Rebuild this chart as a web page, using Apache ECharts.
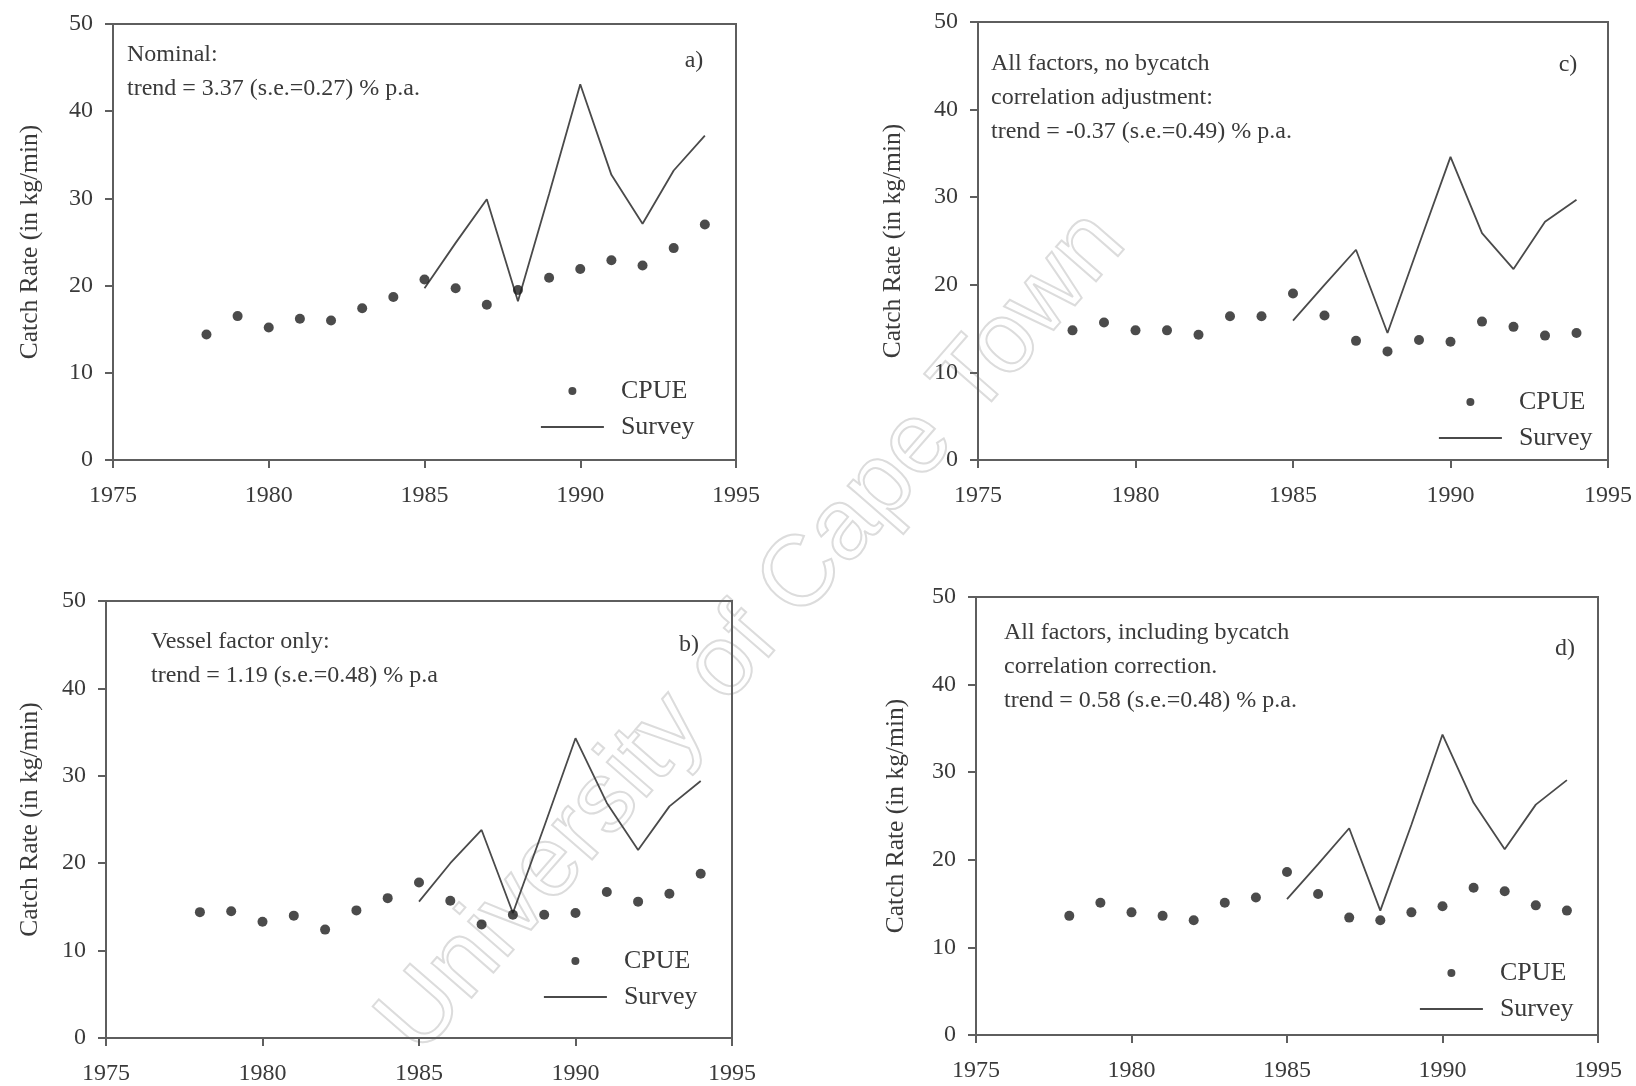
<!DOCTYPE html>
<html>
<head>
<meta charset="utf-8">
<script src="https://cdn.jsdelivr.net/npm/echarts@6/dist/echarts.min.js"></script>
<style>
  html, body { margin: 0; padding: 0; background: #fff; }
  #chart { width: 1636px; height: 1086px; }
</style>
</head>
<body>
<div id="chart"></div>
<script>
// ---- data ----
const years = [1978, 1979, 1980, 1981, 1982, 1983, 1984, 1985, 1986, 1987, 1988, 1989, 1990, 1991, 1992, 1993, 1994];
const surveyYears = [1985, 1986, 1987, 1988, 1989, 1990, 1991, 1992, 1993, 1994];

const cpueA = [14.4, 16.5, 15.2, 16.2, 16.0, 17.4, 18.7, 20.7, 19.7, 17.8, 19.5, 20.9, 21.9, 22.9, 22.3, 24.3, 27.0];
const surveyA = [19.7, 24.9, 29.9, 18.2, 30.5, 43.1, 32.7, 27.1, 33.2, 37.2];

const cpueC = [14.8, 15.7, 14.8, 14.8, 14.3, 16.4, 16.4, 19.0, 16.5, 13.6, 12.4, 13.7, 13.5, 15.8, 15.2, 14.2, 14.5];
const surveyC = [15.9, 20.0, 24.0, 14.5, 24.6, 34.6, 25.9, 21.8, 27.2, 29.7];

const cpueB = [14.4, 14.5, 13.3, 14.0, 12.4, 14.6, 16.0, 17.8, 15.7, 13.0, 14.1, 14.1, 14.3, 16.7, 15.6, 16.5, 18.8];
const surveyB = [15.6, 20.0, 23.8, 14.3, 24.2, 34.3, 26.9, 21.5, 26.5, 29.4];

const cpueD = [13.6, 15.1, 14.0, 13.6, 13.1, 15.1, 15.7, 18.6, 16.1, 13.4, 13.1, 14.0, 14.7, 16.8, 16.4, 14.8, 14.2];
const surveyD = [15.5, 19.5, 23.6, 14.2, 24.0, 34.3, 26.5, 21.2, 26.3, 29.1];

const yTicks = { min: 0, max: 50, interval: 10 };
const xTicks = { min: 1975, max: 1995, interval: 5 };

const panelLabels = ['a)', 'c)', 'b)', 'd)'];
const panelNotes = [
  ['Nominal:', 'trend = 3.37 (s.e.=0.27) % p.a.'],
  ['All factors, no bycatch', 'correlation adjustment:', 'trend = -0.37 (s.e.=0.49) % p.a.'],
  ['Vessel factor only:', 'trend = 1.19 (s.e.=0.48) % p.a'],
  ['All factors, including bycatch', 'correlation correction.', 'trend = 0.58 (s.e.=0.48) % p.a.']
];
const yName = 'Catch Rate (in kg/min)';
const watermark = 'University of Cape Town';

// ---- layout ----
const SERIF = '"Liberation Serif", "DejaVu Serif", serif';
const TXT = '#3a3a3a';
const AX = '#5e5e5e';
const DOT = '#1e1e1e';
const LINE = '#4a4a4a';

const panels = [
  { cpue: cpueA, survey: surveyA, grid: { left: 113, top: 24, width: 623, height: 436 }, nameGap: 70,
    label: [694, 61], note: [127, 52], legend: [540, 378] },
  { cpue: cpueC, survey: surveyC, grid: { left: 978, top: 22, width: 630, height: 438 }, nameGap: 72,
    label: [1568, 65], note: [991, 61], legend: [1438, 389] },
  { cpue: cpueB, survey: surveyB, grid: { left: 106, top: 601, width: 626, height: 438 }, nameGap: 63,
    label: [689, 645], note: [151, 639], legend: [543, 948] },
  { cpue: cpueD, survey: surveyD, grid: { left: 976, top: 597, width: 622, height: 438 }, nameGap: 67,
    label: [1565, 649], note: [1004, 630], legend: [1419, 960] }
];

const grids = [], xAxes = [], yAxes = [], series = [], legends = [], graphics = [];

graphics.push({
  type: 'text', x: 753, y: 633, rotation: 0.854, z: -10,
  style: {
    text: watermark, font: '100px "Liberation Sans", Arial, sans-serif',
    fill: 'rgba(255,255,255,0)', stroke: '#dcdcdc', lineWidth: 2,
    align: 'center', verticalAlign: 'middle'
  }
});

panels.forEach((p, i) => {
  grids.push(Object.assign({ show: true, borderColor: AX, borderWidth: 2, backgroundColor: 'transparent' }, p.grid));
  xAxes.push({
    type: 'value', gridIndex: i, min: xTicks.min, max: xTicks.max, interval: xTicks.interval,
    splitLine: { show: false },
    axisLine: { onZero: false, lineStyle: { color: AX, width: 2 } },
    axisTick: { length: 8, lineStyle: { color: AX, width: 2 } },
    axisLabel: { fontFamily: SERIF, fontSize: 24, color: TXT, margin: 24, formatter: v => String(v) }
  });
  yAxes.push({
    type: 'value', gridIndex: i, min: yTicks.min, max: yTicks.max, interval: yTicks.interval,
    name: yName, nameLocation: 'middle', nameGap: p.nameGap, nameRotate: 90,
    nameTextStyle: { fontFamily: SERIF, fontSize: 25.5, color: TXT },
    splitLine: { show: false },
    axisLine: { onZero: false, lineStyle: { color: AX, width: 2 } },
    axisTick: { length: 8, lineStyle: { color: AX, width: 2 } },
    axisLabel: { fontFamily: SERIF, fontSize: 24, color: TXT, margin: 20 }
  });
  series.push({
    type: 'scatter', name: 'CPUE', xAxisIndex: i, yAxisIndex: i,
    data: years.map((y, k) => [y, p.cpue[k]]),
    symbol: 'circle', symbolSize: 10, itemStyle: { color: DOT }, z: 3
  });
  series.push({
    type: 'line', name: 'Survey', xAxisIndex: i, yAxisIndex: i,
    data: surveyYears.map((y, k) => [y, p.survey[k]]),
    symbol: 'none', itemStyle: { color: 'rgba(0,0,0,0)', borderColor: 'rgba(0,0,0,0)' },
    lineStyle: { color: LINE, width: 1.8 }, z: 2
  });
  legends.push({
    left: p.legend[0], top: p.legend[1], orient: 'vertical', padding: 0,
    itemWidth: 63, itemHeight: 8, itemGap: 10, selectedMode: false,
    data: [
      { name: 'CPUE', icon: 'circle', itemStyle: { color: DOT } },
      { name: 'Survey', itemStyle: { color: 'rgba(0,0,0,0)', borderColor: 'rgba(0,0,0,0)' }, lineStyle: { color: LINE, width: 1.8 } }
    ],
    textStyle: { fontFamily: SERIF, fontSize: 26, color: TXT, lineHeight: 26, padding: [0, 0, 0, 12] }
  });
  graphics.push({
    type: 'text', x: p.label[0], y: p.label[1],
    style: { text: panelLabels[i], font: '24px ' + SERIF, fill: TXT, align: 'center', verticalAlign: 'middle' }
  });
  graphics.push({
    type: 'text', x: p.note[0], y: p.note[1] - 14,
    style: { text: panelNotes[i].join('\n'), font: '24px ' + SERIF, fill: TXT, lineHeight: 34, align: 'left', verticalAlign: 'top' }
  });
});

const chart = echarts.init(document.getElementById('chart'), null, { renderer: 'canvas' });
chart.setOption({
  animation: false,
  backgroundColor: '#fff',
  grid: grids, xAxis: xAxes, yAxis: yAxes, series: series, legend: legends, graphic: graphics
});
</script>
</body>
</html>
